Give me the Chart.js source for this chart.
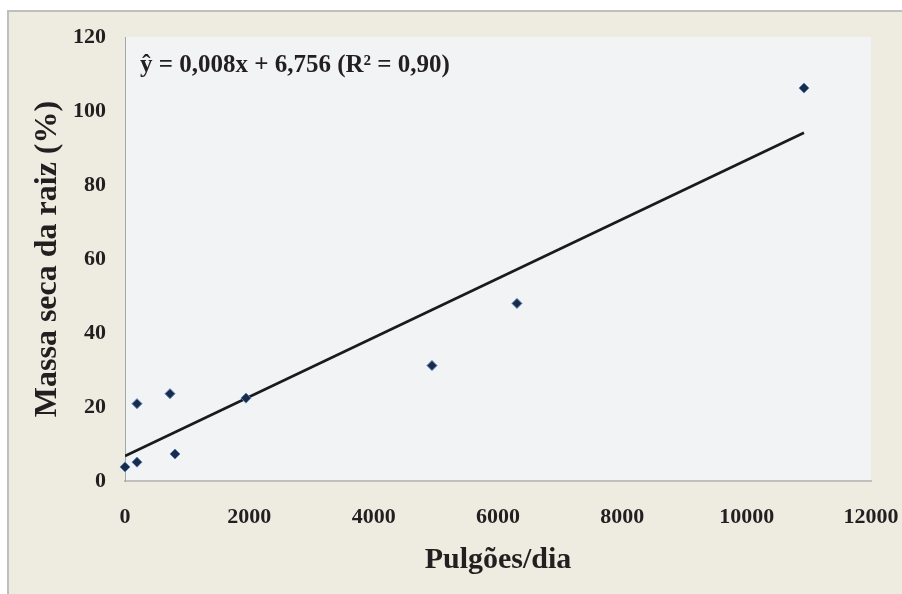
<!DOCTYPE html>
<html>
<head>
<meta charset="utf-8">
<script src="https://cdn.jsdelivr.net/npm/chart.js@4/dist/chart.umd.min.js"></script>
<style>
    html, body { margin: 0; padding: 0; background: #ffffff; }
    #frame {
        position: absolute; left: 7px; top: 10px; width: 900px; height: 590px;
        background: #EEEBE1; border-left: 2px solid #BFBFBF; border-top: 2px solid #BFBFBF;
    }
    #wrap { position: absolute; left: 0; top: 0; width: 902px; height: 594px; }
</style>
</head>
<body>
<div id="frame"></div>
<div id="wrap"><canvas id="chart" width="902" height="594"></canvas></div>
<script>
    /* ─────────────────────────────────────────────
       Data
    ───────────────────────────────────────────── */
    const pulgoesDia = [0, 193, 193, 724, 804, 1946, 4938, 6305, 10922];
    const massaSeca = [3.8, 5.1, 20.9, 23.6, 7.3, 22.4, 31.2, 48.0, 106.2];

    // regression line ŷ = 0,008x + 6,756 drawn between first and last x
    const trendX = [0, 10922];
    const trendY = [6.756, 94.13];

    const xTicks = [0, 2000, 4000, 6000, 8000, 10000, 12000];
    const yTicks = [0, 20, 40, 60, 80, 100, 120];

    const EQUATION = 'ŷ = 0,008x + 6,756 (R² = 0,90)';

    /* ─────────────────────────────────────────────
       Styles
    ───────────────────────────────────────────── */
    const SERIF = "'Liberation Serif', 'Times New Roman', serif";
    const INK = '#231F20';

    const plotBg = {
        id: 'plotBg',
        beforeDraw(chart) {
            const { ctx, chartArea: a } = chart;
            ctx.save();
            ctx.fillStyle = '#F2F3F5';
            ctx.fillRect(a.left, a.top, a.right - a.left, a.bottom - a.top);
            ctx.restore();
        }
    };

    const equationLabel = {
        id: 'equationLabel',
        afterDatasetsDraw(chart) {
            const { ctx, chartArea: a } = chart;
            ctx.save();
            ctx.font = `bold 25px ${SERIF}`;
            ctx.fillStyle = INK;
            ctx.textBaseline = 'alphabetic';
            ctx.fillText(EQUATION, a.left + 15, a.top + 35);
            ctx.restore();
        }
    };

    new Chart(document.getElementById('chart'), {
        data: {
            datasets: [
                {
                    type: 'scatter',
                    data: pulgoesDia.map((x, i) => ({ x, y: massaSeca[i] })),
                    pointStyle: 'rectRot',
                    pointRadius: 5,
                    pointBackgroundColor: '#1B2A47',
                    pointBorderColor: '#4F81BD',
                    pointBorderWidth: 1,
                    clip: false,
                    order: 0
                },
                {
                    type: 'line',
                    data: trendX.map((x, i) => ({ x, y: trendY[i] })),
                    borderColor: '#1A1A1A',
                    borderWidth: 2.6,
                    pointRadius: 0,
                    fill: false,
                    order: 1
                }
            ]
        },
        options: {
            responsive: false,
            animation: false,
            layout: { padding: { left: 0, top: 37, right: 31, bottom: 0 } },
            plugins: { legend: { display: false }, tooltip: { enabled: false } },
            scales: {
                x: {
                    type: 'linear',
                    min: 0, max: 12000,
                    afterBuildTicks: s => { s.ticks = xTicks.map(v => ({ value: v })); },
                    afterFit: s => { s.height = 113; s.paddingLeft = 0; s.paddingRight = 0; },
                    grid: { display: false, drawTicks: false },
                    border: { display: true, color: '#BFBFBF', width: 2 },
                    ticks: {
                        color: INK, padding: 23, maxRotation: 0,
                        callback: v => String(v),
                        font: { family: SERIF, size: 22, weight: 'bold' }
                    },
                    title: {
                        display: true, text: 'Pulgões/dia', color: INK,
                        padding: { top: 0, bottom: 16 },
                        font: { family: SERIF, size: 30, weight: 'bold' }
                    }
                },
                y: {
                    type: 'linear',
                    min: 0, max: 120,
                    afterBuildTicks: s => { s.ticks = yTicks.map(v => ({ value: v })); },
                    afterFit: s => { s.width = 125; s.paddingTop = 0; s.paddingBottom = 0; },
                    grid: { display: false, drawTicks: false },
                    border: { display: true, color: '#A6A6A6', width: 1 },
                    ticks: { color: INK, padding: 19, font: { family: SERIF, size: 22, weight: 'bold' } },
                    title: {
                        display: true, text: 'Massa seca da raiz (%)', color: INK,
                        padding: { top: 29, bottom: 0 },
                        font: { family: SERIF, size: 32, weight: 'bold' }
                    }
                }
            }
        },
        plugins: [plotBg, equationLabel]
    });
</script>
</body>
</html>
